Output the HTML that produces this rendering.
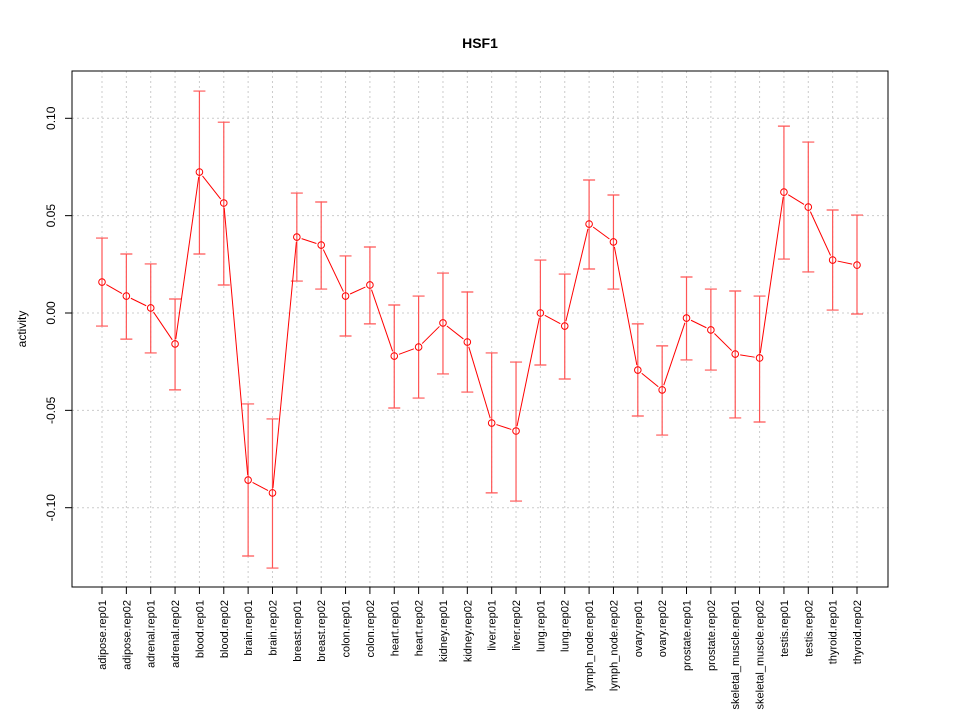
<!DOCTYPE html>
<html><head><meta charset="utf-8"><style>body{margin:0;background:#fff}svg{display:block;font-family:"Liberation Sans",sans-serif}</style></head>
<body>
<svg id="chart" width="960" height="720">
<text x="480" y="48" text-anchor="middle" font-weight="bold" font-size="14">HSF1</text>
<text transform="translate(26,329) rotate(-90)" text-anchor="middle" font-size="12">activity</text>
<g id="grid"></g><g id="marks"></g><g id="axes"></g>
<rect x="72" y="71" width="816" height="516" fill="none" stroke="#000"/>
</svg>
<script>
const categories=["adipose.rep01","adipose.rep02","adrenal.rep01","adrenal.rep02","blood.rep01","blood.rep02","brain.rep01","brain.rep02","breast.rep01","breast.rep02","colon.rep01","colon.rep02","heart.rep01","heart.rep02","kidney.rep01","kidney.rep02","liver.rep01","liver.rep02","lung.rep01","lung.rep02","lymph_node.rep01","lymph_node.rep02","ovary.rep01","ovary.rep02","prostate.rep01","prostate.rep02","skeletal_muscle.rep01","skeletal_muscle.rep02","testis.rep01","testis.rep02","thyroid.rep01","thyroid.rep02"];
const values=[0.0159,0.0087,0.0026,-0.0159,0.0724,0.0565,-0.0858,-0.0924,0.039,0.0349,0.0087,0.0144,-0.0221,-0.0175,-0.0051,-0.0149,-0.0565,-0.0606,0,-0.0067,0.0457,0.0365,-0.0293,-0.0395,-0.0026,-0.0087,-0.0211,-0.0231,0.0621,0.0544,0.0272,0.0246];
const upper=[0.0385,0.0303,0.0252,0.0072,0.114,0.098,-0.0467,-0.0544,0.0616,0.057,0.0293,0.0339,0.0041,0.0087,0.0205,0.0108,-0.0205,-0.0252,0.0272,0.02,0.0683,0.0606,-0.0056,-0.0169,0.0185,0.0123,0.0113,0.0087,0.096,0.0878,0.0529,0.0503];
const lower=[-0.0067,-0.0134,-0.0205,-0.0395,0.0303,0.0144,-0.1248,-0.131,0.0164,0.0123,-0.0118,-0.0056,-0.0488,-0.0437,-0.0313,-0.0406,-0.0924,-0.0966,-0.0267,-0.0339,0.0226,0.0123,-0.0529,-0.0627,-0.0241,-0.0293,-0.0539,-0.056,0.0277,0.0211,0.0015,-0.0005];
const yTicks=[0.10,0.05,0.00,-0.05,-0.10];
const yTickLabels=["0.10","0.05","0.00","-0.05","-0.10"];
const NS="http://www.w3.org/2000/svg";
const xs=i=>102+i*(857-102)/(categories.length-1);
const ys=v=>313-v*1947;
function mk(p,t,a){const e=document.createElementNS(NS,t);for(const k in a)e.setAttribute(k,a[k]);p.appendChild(e);return e;}
const grid=document.getElementById('grid'),marks=document.getElementById('marks'),axes=document.getElementById('axes');
categories.forEach((c,i)=>{
 const g=mk(grid,'line',{x1:xs(i),x2:xs(i),y1:71,y2:587,stroke:'#ccc','stroke-dasharray':'2,3'});
 
 
 const t=mk(axes,'line',{x1:xs(i),x2:xs(i),y1:587,y2:594,stroke:'#000'});
 
 
 const l=mk(axes,'text',{transform:`translate(${xs(i)+4},600) rotate(-90)`,'text-anchor':'end','font-size':'11'});
 l.textContent=c;
 
 
});
yTicks.forEach((v,i)=>{
 const g=mk(grid,'line',{x1:72,x2:888,y1:ys(v),y2:ys(v),stroke:'#ccc','stroke-dasharray':'2,3'});
 
 
 const t=mk(axes,'line',{x1:65,x2:72,y1:ys(v),y2:ys(v),stroke:'#000'});
 
 
 const l=mk(axes,'text',{transform:`translate(55,${ys(v)}) rotate(-90)`,'text-anchor':'middle','font-size':'12'});
 l.textContent=yTickLabels[i];
 
 
});
values.forEach((v,i)=>{
 const x=xs(i);
 const e=mk(marks,'path',{d:`M${x},${ys(upper[i])}V${ys(lower[i])}M${x-6},${ys(upper[i])}H${x+6}M${x-6},${ys(lower[i])}H${x+6}`,stroke:'#f55',fill:'none','stroke-width':'1.2'});
 
 
 if(i>0){
  const x0=xs(i-1),y0=ys(values[i-1]),y1=ys(v),dx=x-x0,dy=y1-y0,L=Math.hypot(dx,dy),r=5;
  if(L>2*r){const s=mk(marks,'line',{x1:x0+dx*r/L,y1:y0+dy*r/L,x2:x-dx*r/L,y2:y1-dy*r/L,stroke:'#f00'});
  
  }
 }
 const p=mk(marks,'circle',{cx:x,cy:ys(v),r:3.3,fill:'none',stroke:'#f00'});
 
 
});
</script>
</body></html>
